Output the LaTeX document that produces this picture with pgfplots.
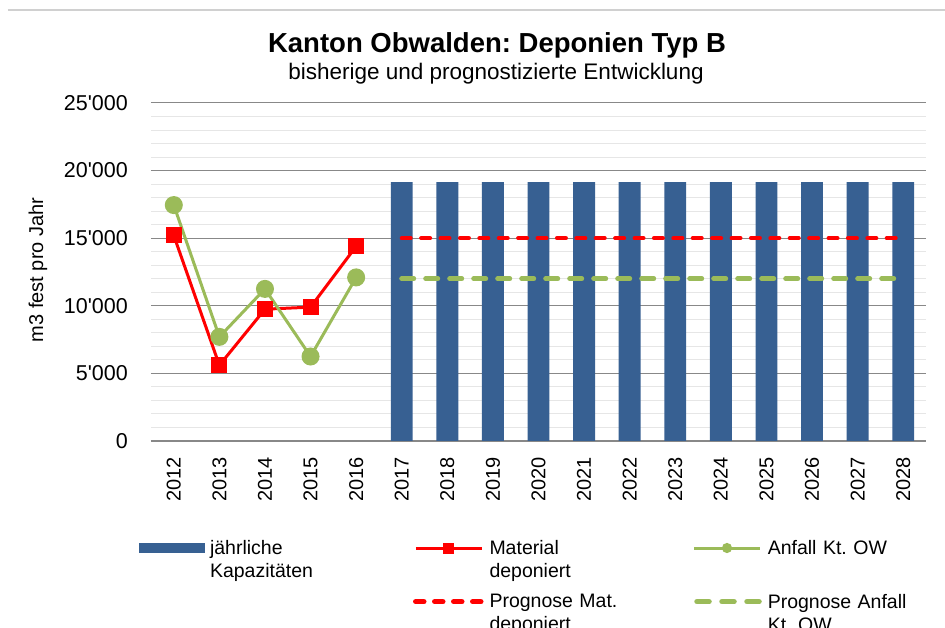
\documentclass[border=0pt]{standalone}
\usepackage{pgfplots}
\pgfplotsset{compat=1.18}
\usepackage{fontspec}
\setmainfont{Liberation Sans}
\newfontfamily\af{Liberation Sans}
\definecolor{barblue}{HTML}{376092}
\definecolor{lred}{HTML}{FF0000}
\definecolor{lgreen}{HTML}{9BBB59}
\definecolor{majorgray}{HTML}{888888}
\definecolor{minorgray}{HTML}{E6E6E6}
\definecolor{topgray}{HTML}{D0D0D0}
\frenchspacing
\begin{document}
\begin{tikzpicture}
\begin{axis}[
  name=ax, at={(0pt,0pt)}, anchor=south west,
  width=775pt, height=338pt, scale only axis,
  xmin=-0.5, xmax=16.5, ymin=0, ymax=25000,
  scaled y ticks=false,
  axis x line*=bottom, axis y line*=left,
  x axis line style={draw=majorgray, line width=1.8pt},
  y axis line style={draw=none},
  xtick={0,1,2,3,4,5,6,7,8,9,10,11,12,13,14,15,16},
  xticklabels={2012,2013,2014,2015,2016,2017,2018,2019,2020,2021,2022,2023,2024,2025,2026,2027,2028},
  ytick={0,5000,10000,15000,20000,25000},
  yticklabels={0,5'000,10'000,15'000,20'000,25'000},
  minor y tick num=4,
  ymajorgrids, yminorgrids,
  major grid style={draw=majorgray, line width=1pt},
  minor grid style={draw=minorgray, line width=1pt},
  major tick length=0pt, minor tick length=0pt,
  xticklabel style={rotate=90, anchor=east, inner sep=0pt, font=\fontsize{20}{24}\selectfont\af},
  yticklabel style={anchor=east, inner sep=0pt, font=\fontsize{21.5}{25}\selectfont\af},
  xticklabel shift=16pt, yticklabel shift=23pt,
  ylabel={m3 fest pro Jahr},
  ylabel style={at={(axis description cs:-0.1458,0.506)}, anchor=center, rotate=0, font=\fontsize{20}{24}\selectfont\af},
  legend columns=3,
  legend style={
    at={(axis description cs:-0.01548,-0.2944)}, anchor=north west,
    draw=none, fill=none, inner sep=0pt, outer sep=0pt,
    font=\fontsize{19.5}{23}\selectfont\af,
    cells={anchor=north west},
    nodes={inner sep=0pt, align=left},
    row sep=38pt,
    /tikz/every odd column/.append style={column sep=5pt},
    /tikz/every even column/.append style={text width=203pt},
  },
]
\addplot[ybar, fill=barblue, draw=none, bar width=0.48,
  legend image code/.code={\fill[barblue] (0pt,-12.8pt) rectangle (66pt,-2.2pt);}]
  coordinates {(5,19150) (6,19150) (7,19150) (8,19150) (9,19150) (10,19150)
               (11,19150) (12,19150) (13,19150) (14,19150) (15,19150) (16,19150)};
\addlegendentry{jährliche\\Kapazitäten}
\addplot[lred, line width=3pt, mark=square*, mark size=6.5pt, mark options={solid},
  legend image code/.code={\draw[lred, line width=3pt] (0pt,-7.5pt) -- (66pt,-7.5pt);
    \draw[lred, line width=3pt, mark=square*, mark size=4pt] plot coordinates {(33pt,-7.5pt)};}]
  coordinates {(0,15200) (1,5600) (2,9750) (3,9900) (4,14400)};
\addlegendentry{Material\\deponiert}
\addplot[lgreen, line width=3pt, mark=*, mark size=7.5pt,
  legend image code/.code={\draw[lgreen, line width=3pt] (0pt,-7.5pt) -- (66pt,-7.5pt);
    \draw[lgreen, line width=3pt, mark=*, mark size=3.5pt] plot coordinates {(33pt,-7.5pt)};}]
  coordinates {(0,17450) (1,7700) (2,11250) (3,6250) (4,12100)};
\addlegendentry{Anfall Kt. OW}
\addlegendimage{empty legend}
\addlegendentry{}
\addplot[lred, line width=4pt, line cap=round, dash pattern=on 9pt off 10.4pt,
  legend image code/.code={\draw[lred, line width=5.5pt, line cap=round, dash pattern=on 8pt off 11pt] (0pt,-7.5pt) -- (66pt,-7.5pt);}]
  coordinates {(5,15000) (6,15000) (7,15000) (8,15000) (9,15000) (10,15000)
               (11,15000) (12,15000) (13,15000) (14,15000) (15,15000) (16,15000)};
\addlegendentry{Prognose Mat.\\deponiert}
\addplot[lgreen, line width=5pt, line cap=round, dash pattern=on 12pt off 12pt,
  legend image code/.code={\draw[lgreen, line width=5.5pt, line cap=round, dash pattern=on 12pt off 13pt] (3pt,-7.5pt) -- (66pt,-7.5pt);}]
  coordinates {(5,12000) (6,12000) (7,12000) (8,12000) (9,12000) (10,12000)
               (11,12000) (12,12000) (13,12000) (14,12000) (15,12000) (16,12000)};
\addlegendentry{Prognose Anfall\\Kt. OW}
\end{axis}
\begin{scope}[shift={(ax.south west)}, x=1pt, y=1pt]
\draw[topgray, line width=1.5pt] (-143,431) -- (794,431);
\node[font=\fontsize{27.5}{32}\selectfont\bfseries\af, anchor=base, inner sep=0pt] at (346,388) {Kanton Obwalden: Deponien Typ B};
\node[font=\fontsize{22.5}{26}\selectfont\af, anchor=base, inner sep=0pt] at (345,361) {bisherige und prognostizierte Entwicklung};
\pgfresetboundingbox
\path (-151,-187) rectangle (794,441);
\end{scope}
\end{tikzpicture}
\end{document}
